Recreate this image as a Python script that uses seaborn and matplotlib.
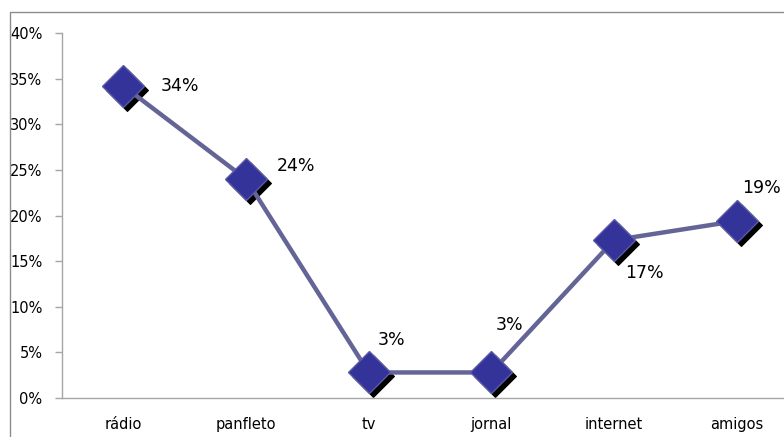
import matplotlib
matplotlib.use("Agg")
import matplotlib.pyplot as plt
import matplotlib.transforms as mtransforms
from matplotlib.patches import Rectangle
import seaborn as sns
import pandas as pd

categories = ["rádio", "panfleto", "tv", "jornal", "internet", "amigos"]
values = [0.342, 0.240, 0.028, 0.028, 0.173, 0.194]
labels = ["34%", "24%", "3%", "3%", "17%", "19%"]
label_offsets = [(57, 0), (50, 13), (23, 32), (18, 47), (30, -33), (25, 33)]
yticks = [0, 0.05, 0.10, 0.15, 0.20, 0.25, 0.30, 0.35, 0.40]
ytick_labels = ["0%", "5%", "10%", "15%", "20%", "25%", "30%", "35%", "40%"]

sns.set_style("white")
plt.rcParams["font.family"] = ["DejaVu Sans"]
plt.rcParams["text.color"] = "black"

df = pd.DataFrame({"cat": categories, "val": values})

fig = plt.figure(figsize=(7.84, 4.37), dpi=100)
fig.patches.append(Rectangle((10 / 784, -0.1), 1.2, (437 - 12) / 437 + 0.1,
                             transform=fig.transFigure, fill=False,
                             edgecolor="#8c8c8c", linewidth=1.0))
ax = fig.add_axes([62 / 784, 39 / 437, 736 / 784, 365 / 437])

# shadow markers
shadow = mtransforms.offset_copy(ax.transData, fig=fig, x=4, y=-4, units="dots")
sns.lineplot(data=df, x="cat", y="val", ax=ax, sort=False, linestyle="none",
             marker="D", markersize=21, color="black", markeredgecolor="black",
             transform=shadow)
sns.lineplot(data=df, x="cat", y="val", ax=ax, sort=False, color="#646496",
             linewidth=3.2, marker="D", markersize=21,
             markerfacecolor="#333399", markeredgecolor="#5a5aa8",
             markeredgewidth=1.0)

for i, (v, lab, off) in enumerate(zip(values, labels, label_offsets)):
    ax.annotate(lab, (i, v), xytext=(off[0] * 0.72, off[1] * 0.72),
                textcoords="offset points", ha="center", va="center",
                fontsize=12.5, color="black")

ax.set_xlim(-0.5, 5.5)
ax.set_ylim(0, 0.40)
ax.set_yticks(yticks)
ax.set_yticklabels(ytick_labels, fontsize=10.5)
ax.set_xticks(range(len(categories)))
ax.set_xticklabels(categories, fontsize=10.5)
ax.set_xticks([i - 0.5 for i in range(len(categories) + 1)], minor=True)
ax.tick_params(axis="x", which="major", length=0, pad=14, labelcolor="black")
ax.tick_params(axis="x", which="minor", length=5, color="#a6a6a6", width=1, direction="out")
ax.tick_params(axis="y", length=5, color="#a6a6a6", width=1, direction="out", pad=9,
               left=True, labelcolor="black")
ax.set_xlabel("")
ax.set_ylabel("")
for s in ["top", "right"]:
    ax.spines[s].set_visible(False)
for s in ["left", "bottom"]:
    ax.spines[s].set_color("#a6a6a6")
    ax.spines[s].set_linewidth(1.0)

fig.savefig("out.png", dpi=100)
